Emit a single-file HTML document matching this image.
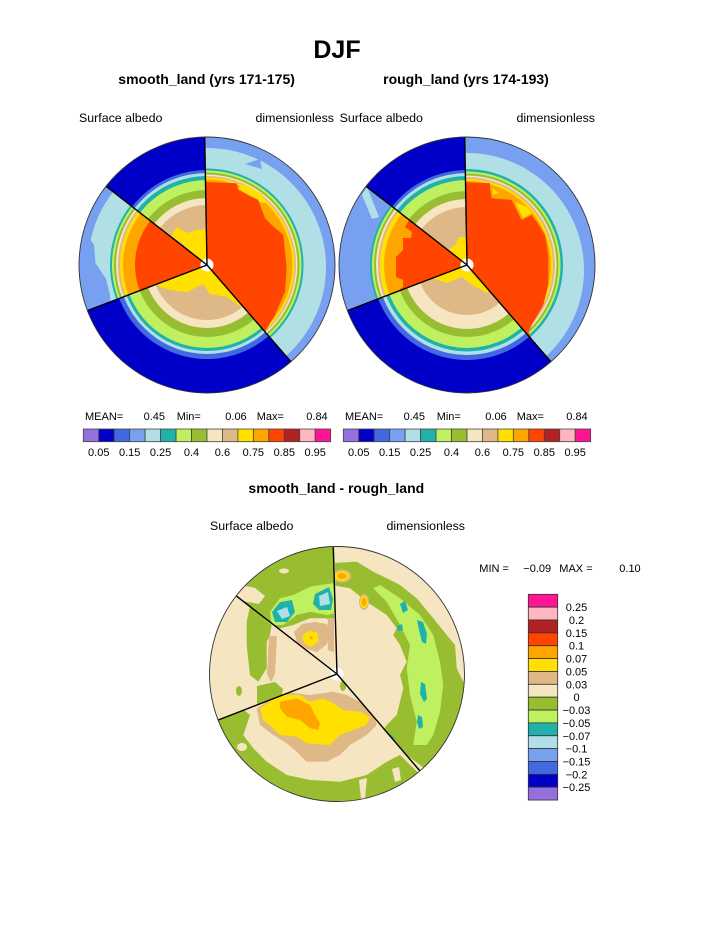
<!DOCTYPE html>
<html><head><meta charset="utf-8"><style>
html,body{margin:0;padding:0;background:#fff;}
svg{display:block;}
text{font-family:"Liberation Sans",Arial,sans-serif;fill:#000;}
.t{font-weight:bold;}
.s{font-size:12.4px;}
.c{font-size:11px;}
</style></head><body>
<svg width="723" height="935" viewBox="0 0 723 935" xmlns="http://www.w3.org/2000/svg">
<defs>
<clipPath id="wA"><path d="M0,0 L-2.5,-140 A140,140 0 0,1 91.7,105.7 Z"/></clipPath>
<clipPath id="wD"><path d="M0,0 L91.7,105.7 A140,140 0 0,1 -130.8,49.8 Z"/></clipPath>
<clipPath id="wC"><path d="M0,0 L-130.8,49.8 A140,140 0 0,1 -110.3,-86.1 Z"/></clipPath>
<clipPath id="wB"><path d="M0,0 L-110.3,-86.1 A140,140 0 0,1 -2.5,-140 Z"/></clipPath>
<clipPath id="cc"><circle r="127.5"/></clipPath>
<clipPath id="ct"><circle r="128"/></clipPath>
</defs>
<rect width="723" height="935" fill="#fff"/>

<!-- Titles -->
<text class="t" x="337" y="58" font-size="25" text-anchor="middle">DJF</text>
<text class="t" x="206.6" y="84" font-size="14" text-anchor="middle">smooth_land (yrs 171-175)</text>
<text class="t" x="466" y="84" font-size="14" text-anchor="middle">rough_land (yrs 174-193)</text>
<text class="s" x="79" y="122">Surface albedo</text>
<text class="s" x="334" y="122" text-anchor="end">dimensionless</text>
<text class="s" x="339.6" y="122">Surface albedo</text>
<text class="s" x="595" y="122" text-anchor="end">dimensionless</text>

<!-- LEFT CIRCLE (smooth) -->
<g transform="translate(207,265)">
<g clip-path="url(#ct)">
 <g clip-path="url(#wA)">
  <circle r="128" fill="#78a0f0"/>
  <circle cy="2" r="119" fill="#b0e0e6"/>
  <polygon points="38,-101 53,-106 55,-96" fill="#78a0f0"/>
  <circle r="96.5" fill="#20b2aa"/>
  <circle r="94.5" fill="#bff060"/>
  <circle r="92.5" fill="#99bd30"/>
  <circle r="90.5" fill="#f5e5c0"/>
  <circle r="89" fill="#deb887"/>
  <circle r="87.5" fill="#ffe000"/>
  <circle r="85.5" fill="#ffa500"/>
  <polygon points="31,-77 38,-81 46,-76 55,-71 58,-62 51,-63 41,-70" fill="#ffe000"/>
  <polygon points="-10,10 -10,-83.3 29.7,-81.7 31.3,-75 51.3,-65 58,-46.7 64.7,-40 76.3,-30 79.7,3.3 78,26.7 68,50 58,66.7 62,74 0,10" fill="#ff4500"/>
 </g>
 <g clip-path="url(#wB)">
  <circle r="128" fill="#0000c8"/>
  <circle r="95" fill="#4169e1"/>
  <circle r="92" fill="#b0e0e6"/>
  <circle r="89" fill="#20b2aa"/>
  <circle r="85" fill="#bff060"/>
  <circle r="75" fill="#99bd30"/>
  <circle r="67" fill="#f5e5c0"/>
  <circle r="60" fill="#deb887"/>
  <polygon points="0,0 -1,-36 -10,-35 -20,-32 -30,-38 -36,-29 -25,-22 -14,-11" fill="#ffe000"/>
 </g>
 <g clip-path="url(#wC)">
  <circle r="128" fill="#78a0f0"/>
  <circle r="119" fill="#b0e0e6"/>
  <polygon points="-135,3 -110,0 -101,14 -97,30 -96,48 -135,55" fill="#78a0f0"/>
  <polygon points="-121,-32 -113,-20 -111,4 -121,4" fill="#78a0f0"/>
  <circle r="97" fill="#20b2aa"/>
  <circle r="95" fill="#bff060"/>
  <circle r="93" fill="#99bd30"/>
  <circle r="91" fill="#f5e5c0"/>
  <circle r="89" fill="#deb887"/>
  <circle r="87" fill="#ffe000"/>
  <circle r="84" fill="#ffa500"/>
  <circle r="72" fill="#ff4500"/>
 </g>
 <g clip-path="url(#wD)">
  <circle r="128" fill="#0000c8"/>
  <circle r="94" fill="#4169e1"/>
  <circle r="89" fill="#b0e0e6"/>
  <circle r="86" fill="#20b2aa"/>
  <circle r="83" fill="#bff060"/>
  <circle r="72" fill="#99bd30"/>
  <circle r="63" fill="#f5e5c0"/>
  <circle r="55" fill="#deb887"/>
  <polygon points="0,0 -50,19 -47,22 -37,25 -20,27 -4,19 3,29 20,32 34,42 42,40 10,0" fill="#ffe000"/>
 </g>
</g>
<circle r="6.5" fill="#fff"/>
<g stroke="#000" stroke-width="1.4">
 <line x1="0" y1="0" x2="-2.3" y2="-128"/>
 <line x1="0" y1="0" x2="-100.9" y2="-78.7"/>
 <line x1="0" y1="0" x2="-119.6" y2="45.6"/>
 <line x1="0" y1="0" x2="83.8" y2="96.6"/>
</g>
<circle r="128" fill="none" stroke="#333" stroke-width="0.9"/>
</g>

<!-- RIGHT CIRCLE (rough) -->
<g transform="translate(467,265)">
<g clip-path="url(#ct)">
 <g clip-path="url(#wA)">
  <circle r="128" fill="#78a0f0"/>
  <circle cy="5" r="117" fill="#b0e0e6"/>
  <circle r="96" fill="#20b2aa"/>
  <circle r="93.5" fill="#bff060"/>
  <circle r="91.5" fill="#99bd30"/>
  <circle r="89.5" fill="#f5e5c0"/>
  <circle r="88" fill="#deb887"/>
  <circle r="86" fill="#ffe000"/>
  <circle r="84" fill="#ffa500"/>
  <polygon points="-10,10 -10,-83.3 23,-81.7 23,-76.7 24.7,-66.7 44.7,-65 54.7,-45 64.7,-50 69.7,-43.3 78,-30 81.3,-10 81.3,20 76.3,40 64.7,60 61.3,66.7 66,76 0,10" fill="#ff4500"/>
  <polygon points="25,-77 32,-72 26,-70" fill="#ffe000"/>
  <polygon points="48,-63 60,-58 65,-52 56,-47" fill="#ffe000"/>
 </g>
 <g clip-path="url(#wB)">
  <circle r="128" fill="#0000c8"/>
  <circle r="95" fill="#4169e1"/>
  <circle r="92" fill="#b0e0e6"/>
  <circle r="89" fill="#20b2aa"/>
  <circle r="85" fill="#bff060"/>
  <circle r="74" fill="#99bd30"/>
  <circle r="66" fill="#f5e5c0"/>
  <circle r="58" fill="#deb887"/>
  <polygon points="0,0 -1,-28 -8,-28 -12,-20 -20,-14 -12,-9" fill="#ffe000"/>
 </g>
 <g clip-path="url(#wC)">
  <circle r="128" fill="#78a0f0"/>
  <polygon points="-100,-78 -92,-58 -88,-48 -95,-46 -105,-70" fill="#b0e0e6"/>
  <circle r="97" fill="#20b2aa"/>
  <circle r="95" fill="#bff060"/>
  <circle r="93" fill="#99bd30"/>
  <circle r="91" fill="#f5e5c0"/>
  <circle r="89" fill="#deb887"/>
  <circle r="87" fill="#ffe000"/>
  <circle r="83" fill="#ffa500"/>
  <polygon points="0,0 -58,-45 -62,-38 -55,-33 -56,-27 -64,-27 -64,-15 -71,-8 -71,12 -64,15 -64,22 -72,28 0,5" fill="#ff4500"/>
 </g>
 <g clip-path="url(#wD)">
  <circle r="128" fill="#0000c8"/>
  <circle r="95" fill="#4169e1"/>
  <circle r="90" fill="#b0e0e6"/>
  <circle r="86.5" fill="#20b2aa"/>
  <circle r="83" fill="#bff060"/>
  <circle r="72" fill="#99bd30"/>
  <circle r="64" fill="#f5e5c0"/>
  <circle r="50" fill="#deb887"/>
  <polygon points="0,0 -35,13 -20,18 -5,12 5,20 20,28 25,25 10,5" fill="#ffe000"/>
 </g>
</g>
<circle r="6.5" fill="#fff"/>
<g stroke="#000" stroke-width="1.4">
 <line x1="0" y1="0" x2="-2.3" y2="-128"/>
 <line x1="0" y1="0" x2="-100.9" y2="-78.7"/>
 <line x1="0" y1="0" x2="-119.6" y2="45.6"/>
 <line x1="0" y1="0" x2="83.8" y2="96.6"/>
</g>
<circle r="128" fill="none" stroke="#333" stroke-width="0.9"/>
</g>

<!-- Top colorbars -->
<g class="c">
<text class="c" x="85" y="420">MEAN=</text>
<text class="c" x="165" y="420" text-anchor="end">0.45</text>
<text class="c" x="176.7" y="420">Min=</text>
<text class="c" x="246.7" y="420" text-anchor="end">0.06</text>
<text class="c" x="256.7" y="420">Max=</text>
<text class="c" x="327.7" y="420" text-anchor="end">0.84</text>

<text class="c" x="345" y="420">MEAN=</text>
<text class="c" x="425" y="420" text-anchor="end">0.45</text>
<text class="c" x="436.7" y="420">Min=</text>
<text class="c" x="506.7" y="420" text-anchor="end">0.06</text>
<text class="c" x="516.7" y="420">Max=</text>
<text class="c" x="587.7" y="420" text-anchor="end">0.84</text>
</g>
<g stroke="#444" stroke-width="0.8">
<rect x="83.3" y="429" width="15.46" height="12.7" fill="#9370db"/>
<rect x="98.76" y="429" width="15.46" height="12.7" fill="#0000c8"/>
<rect x="114.22" y="429" width="15.46" height="12.7" fill="#4169e1"/>
<rect x="129.68" y="429" width="15.46" height="12.7" fill="#78a0f0"/>
<rect x="145.14" y="429" width="15.46" height="12.7" fill="#b0e0e6"/>
<rect x="160.6" y="429" width="15.46" height="12.7" fill="#20b2aa"/>
<rect x="176.06" y="429" width="15.46" height="12.7" fill="#bff060"/>
<rect x="191.52" y="429" width="15.46" height="12.7" fill="#99bd30"/>
<rect x="206.98" y="429" width="15.46" height="12.7" fill="#f5e5c0"/>
<rect x="222.44" y="429" width="15.46" height="12.7" fill="#deb887"/>
<rect x="237.9" y="429" width="15.46" height="12.7" fill="#ffe000"/>
<rect x="253.36" y="429" width="15.46" height="12.7" fill="#ffa500"/>
<rect x="268.82" y="429" width="15.46" height="12.7" fill="#ff4500"/>
<rect x="284.28" y="429" width="15.46" height="12.7" fill="#b22222"/>
<rect x="299.74" y="429" width="15.46" height="12.7" fill="#ffb6c1"/>
<rect x="315.2" y="429" width="15.46" height="12.7" fill="#ff1493"/>

<rect x="343.3" y="429" width="15.46" height="12.7" fill="#9370db"/>
<rect x="358.76" y="429" width="15.46" height="12.7" fill="#0000c8"/>
<rect x="374.22" y="429" width="15.46" height="12.7" fill="#4169e1"/>
<rect x="389.68" y="429" width="15.46" height="12.7" fill="#78a0f0"/>
<rect x="405.14" y="429" width="15.46" height="12.7" fill="#b0e0e6"/>
<rect x="420.6" y="429" width="15.46" height="12.7" fill="#20b2aa"/>
<rect x="436.06" y="429" width="15.46" height="12.7" fill="#bff060"/>
<rect x="451.52" y="429" width="15.46" height="12.7" fill="#99bd30"/>
<rect x="466.98" y="429" width="15.46" height="12.7" fill="#f5e5c0"/>
<rect x="482.44" y="429" width="15.46" height="12.7" fill="#deb887"/>
<rect x="497.9" y="429" width="15.46" height="12.7" fill="#ffe000"/>
<rect x="513.36" y="429" width="15.46" height="12.7" fill="#ffa500"/>
<rect x="528.82" y="429" width="15.46" height="12.7" fill="#ff4500"/>
<rect x="544.28" y="429" width="15.46" height="12.7" fill="#b22222"/>
<rect x="559.74" y="429" width="15.46" height="12.7" fill="#ffb6c1"/>
<rect x="575.2" y="429" width="15.46" height="12.7" fill="#ff1493"/>
</g>
<g text-anchor="middle">
<text class="c" x="98.76" y="456">0.05</text>
<text class="c" x="129.68" y="456">0.15</text>
<text class="c" x="160.6" y="456">0.25</text>
<text class="c" x="191.52" y="456">0.4</text>
<text class="c" x="222.44" y="456">0.6</text>
<text class="c" x="253.36" y="456">0.75</text>
<text class="c" x="284.28" y="456">0.85</text>
<text class="c" x="315.2" y="456">0.95</text>
<text class="c" x="358.76" y="456">0.05</text>
<text class="c" x="389.68" y="456">0.15</text>
<text class="c" x="420.6" y="456">0.25</text>
<text class="c" x="451.52" y="456">0.4</text>
<text class="c" x="482.44" y="456">0.6</text>
<text class="c" x="513.36" y="456">0.75</text>
<text class="c" x="544.28" y="456">0.85</text>
<text class="c" x="575.2" y="456">0.95</text>
</g>

<!-- Bottom titles -->
<text class="t" x="336.3" y="493" font-size="14" text-anchor="middle">smooth_land - rough_land</text>
<text class="s" x="210" y="530">Surface albedo</text>
<text class="s" x="465" y="530" text-anchor="end">dimensionless</text>

<!-- DIFF CIRCLE -->
<g transform="translate(337,674)">
<g clip-path="url(#cc)">
 <circle r="127.5" fill="#f5e5c0"/>
 <g clip-path="url(#wA)">
  <polygon points="-5,-111 19.7,-112.3 36.3,-102.3 49.7,-95.7 63,-89 79.7,-75.7 96.3,-55.7 109.7,-39 118,-29 119.7,-5.7 126.3,7.7 135,10 132,40 120,70 105,90 95,100 43,61 49.7,51 59.7,41 63,27.7 66.3,14.3 63,1 69.7,-12.3 63,-29 56.3,-39 59.7,-45.7 49.7,-59 29.7,-72.3 13,-85.7 -5,-89" fill="#99bd30"/>
  <polygon points="43,-89 63,-75.7 83,-59 96.3,-39 103,-12.3 106.3,11 103,37.7 96.3,61 89.7,71 76.3,71 79.7,47.7 73,21 69.7,-5.7 73,-29 63,-49 49.7,-72.3 36.3,-85.7" fill="#bff060"/>
  <polygon points="63,-70 68,-73 71,-64 66,-61" fill="#20b2aa"/>
  <polygon points="80,-54 86,-52 90,-40 89,-30 85,-32 82,-44" fill="#20b2aa"/>
  <polygon points="84,8 88,10 90,25 87,28 83,20" fill="#20b2aa"/>
  <polygon points="81,41 85,43 86,53 82,55 80,48" fill="#20b2aa"/>
  <polygon points="60,-48 65,-50 66,-44 61,-43" fill="#20b2aa"/>
  <polygon points="43,62 50,58 57,63 56,71 48,70" fill="#20b2aa"/>
  <polygon points="48,62 53,61 54,66 50,67" fill="#b0e0e6"/>
  <ellipse cx="5" cy="-98" rx="9" ry="6.5" fill="#deb887"/>
  <ellipse cx="5" cy="-98" rx="7" ry="4.8" fill="#ffe000"/>
  <ellipse cx="5" cy="-98" rx="4.5" ry="3" fill="#ffa500"/>
  <ellipse cx="27" cy="-72" rx="5" ry="8" fill="#deb887"/>
  <ellipse cx="27" cy="-72" rx="3.8" ry="6" fill="#ffe000"/>
  <ellipse cx="27" cy="-72" rx="2.3" ry="4" fill="#ffa500"/>
 </g>
 <g clip-path="url(#wB)">
  <polygon points="-3,-140 -3,-46 -10.3,-55.7 -27,-55.7 -43.7,-49 -60,-45 -140,-105 -140,-140" fill="#99bd30"/>
  <polygon points="-100,-90 -82,-86 -72,-78 -78,-70 -100,-74" fill="#f5e5c0"/>
  <ellipse cx="-53" cy="-103" rx="5" ry="2.5" fill="#f5e5c0"/>
  <polygon points="-67,-62.3 -57,-75.7 -43.7,-79 -27,-87.3 -17,-89 -3.7,-90.7 -2,-60.7 -10.3,-59 -27,-62.3 -40.3,-59 -53.7,-49 -65.3,-49" fill="#bff060"/>
  <polygon points="-65,-62 -57,-72 -45,-74 -42,-62 -50,-52 -62,-52" fill="#20b2aa"/>
  <polygon points="-60,-63 -50,-67 -47,-58 -55,-55" fill="#b0e0e6"/>
  <polygon points="-22,-80 -8,-87 -4,-75 -6,-64 -18,-64 -24,-70" fill="#20b2aa"/>
  <polygon points="-18,-78 -9,-82 -7,-70 -17,-68" fill="#b0e0e6"/>
  <polygon points="-43,-42 -35,-50 -22,-52 -10,-50 -6,-42 -10,-30 -20,-22 -30,-25 -40,-32" fill="#deb887"/>
  <polygon points="-9,-56 -3,-56 -3,-22 -9,-24" fill="#deb887"/>
  <polygon points="-35,-38 -28,-43 -20,-42 -18,-33 -26,-27 -33,-31" fill="#ffe000"/>
  <polygon points="-28,-37 -24,-38 -25,-34" fill="#ffa500"/>
 </g>
 <g clip-path="url(#wC)">
  <polygon points="-87,-67.3 -65.3,-49 -67,-39 -70.3,-32.3 -70.3,-5.7 -78.7,7.7 -87,1 -90.3,-29 -90.3,-52.3" fill="#99bd30"/>
  <polygon points="-68,-38 -60,-38 -62,0 -66,8 -70,0" fill="#deb887"/>
  <polygon points="-80,12 -62,8 -54,15 -56,25 -80,30" fill="#99bd30"/>
  <ellipse cx="-98" cy="17" rx="3" ry="5" fill="#99bd30"/>
 </g>
 <g clip-path="url(#wD)">
  <polygon points="-140,30 -140,140 140,140 110,127 63,81 49.7,87.7 29.7,101 3,107.7 -27,106 -50.3,101 -70.3,87.7 -83.7,74.3 -93.7,61 -87,41 -100,30" fill="#99bd30"/>
  <polygon points="22,106 30,104 28,125 24,125" fill="#f5e5c0"/>
  <polygon points="55,95 62,93 64,106 58,108" fill="#f5e5c0"/>
  <ellipse cx="-95" cy="73" rx="5" ry="4" fill="#f5e5c0"/>
  <polygon points="-80.3,34.3 -53.7,17.7 -27,21 -3.7,17.7 9.7,21 23,27.7 36.3,37.7 39.7,51 29.7,61 13,71 3,81 -10.3,87.7 -30.3,87.7 -40.3,77.7 -50.3,69.3 -63.7,61 -77,51" fill="#deb887"/>
  <polygon points="-77,34.3 -57,21 -37,21 -27,27.7 -13.7,24.3 -3.7,29.3 6.3,36 23,37.7 33,42.7 29.7,51 16.3,56 3,61 -7,71 -30.3,69.3 -40.3,62.7 -57,61 -63.7,54.3 -73.7,46" fill="#ffe000"/>
  <polygon points="-57,27.7 -40.3,24.3 -27,31 -22,41 -17,49.3 -18.7,56 -27,54.3 -37,46 -50.3,42.7 -57,34.3" fill="#ffa500"/>
  <ellipse cx="6" cy="12" rx="3" ry="5" fill="#99bd30"/>
 </g>
</g>
<circle r="6.5" fill="#fff"/>
<g stroke="#000" stroke-width="1.4">
 <line x1="0" y1="0" x2="-3.7" y2="-126.7"/>
 <line x1="0" y1="0" x2="-101" y2="-78.3"/>
 <line x1="0" y1="0" x2="-118.7" y2="46"/>
 <line x1="0" y1="0" x2="83" y2="97"/>
</g>
<circle r="127.5" fill="none" stroke="#333" stroke-width="0.9"/>
</g>

<!-- MIN/MAX -->
<text class="c" x="479.3" y="572">MIN =</text>
<text class="c" x="523.3" y="572">−0.09</text>
<text class="c" x="559.3" y="572">MAX =</text>
<text class="c" x="640.7" y="572" text-anchor="end">0.10</text>

<!-- Vertical colorbar -->
<g stroke="#333" stroke-width="0.8">
<rect x="528.3" y="594.3" width="29.4" height="12.86" fill="#ff1493"/>
<rect x="528.3" y="607.16" width="29.4" height="12.86" fill="#ffb6c1"/>
<rect x="528.3" y="620.02" width="29.4" height="12.86" fill="#b22222"/>
<rect x="528.3" y="632.88" width="29.4" height="12.86" fill="#ff4500"/>
<rect x="528.3" y="645.74" width="29.4" height="12.86" fill="#ffa500"/>
<rect x="528.3" y="658.6" width="29.4" height="12.86" fill="#ffe000"/>
<rect x="528.3" y="671.46" width="29.4" height="12.86" fill="#deb887"/>
<rect x="528.3" y="684.32" width="29.4" height="12.86" fill="#f5e5c0"/>
<rect x="528.3" y="697.18" width="29.4" height="12.86" fill="#99bd30"/>
<rect x="528.3" y="710.04" width="29.4" height="12.86" fill="#bff060"/>
<rect x="528.3" y="722.9" width="29.4" height="12.86" fill="#20b2aa"/>
<rect x="528.3" y="735.76" width="29.4" height="12.86" fill="#b0e0e6"/>
<rect x="528.3" y="748.62" width="29.4" height="12.86" fill="#78a0f0"/>
<rect x="528.3" y="761.48" width="29.4" height="12.86" fill="#4169e1"/>
<rect x="528.3" y="774.34" width="29.4" height="12.86" fill="#0000c8"/>
<rect x="528.3" y="787.2" width="29.4" height="12.86" fill="#9370db"/>
</g>
<g text-anchor="middle">
<text class="c" x="576.5" y="611.2">0.25</text>
<text class="c" x="576.5" y="624.0">0.2</text>
<text class="c" x="576.5" y="636.9">0.15</text>
<text class="c" x="576.5" y="649.7">0.1</text>
<text class="c" x="576.5" y="662.6">0.07</text>
<text class="c" x="576.5" y="675.5">0.05</text>
<text class="c" x="576.5" y="688.3">0.03</text>
<text class="c" x="576.5" y="701.2">0</text>
<text class="c" x="576.5" y="714.0">−0.03</text>
<text class="c" x="576.5" y="726.9">−0.05</text>
<text class="c" x="576.5" y="739.8">−0.07</text>
<text class="c" x="576.5" y="752.6">−0.1</text>
<text class="c" x="576.5" y="765.5">−0.15</text>
<text class="c" x="576.5" y="778.3">−0.2</text>
<text class="c" x="576.5" y="791.2">−0.25</text>
</g>
</svg>
</body></html>
